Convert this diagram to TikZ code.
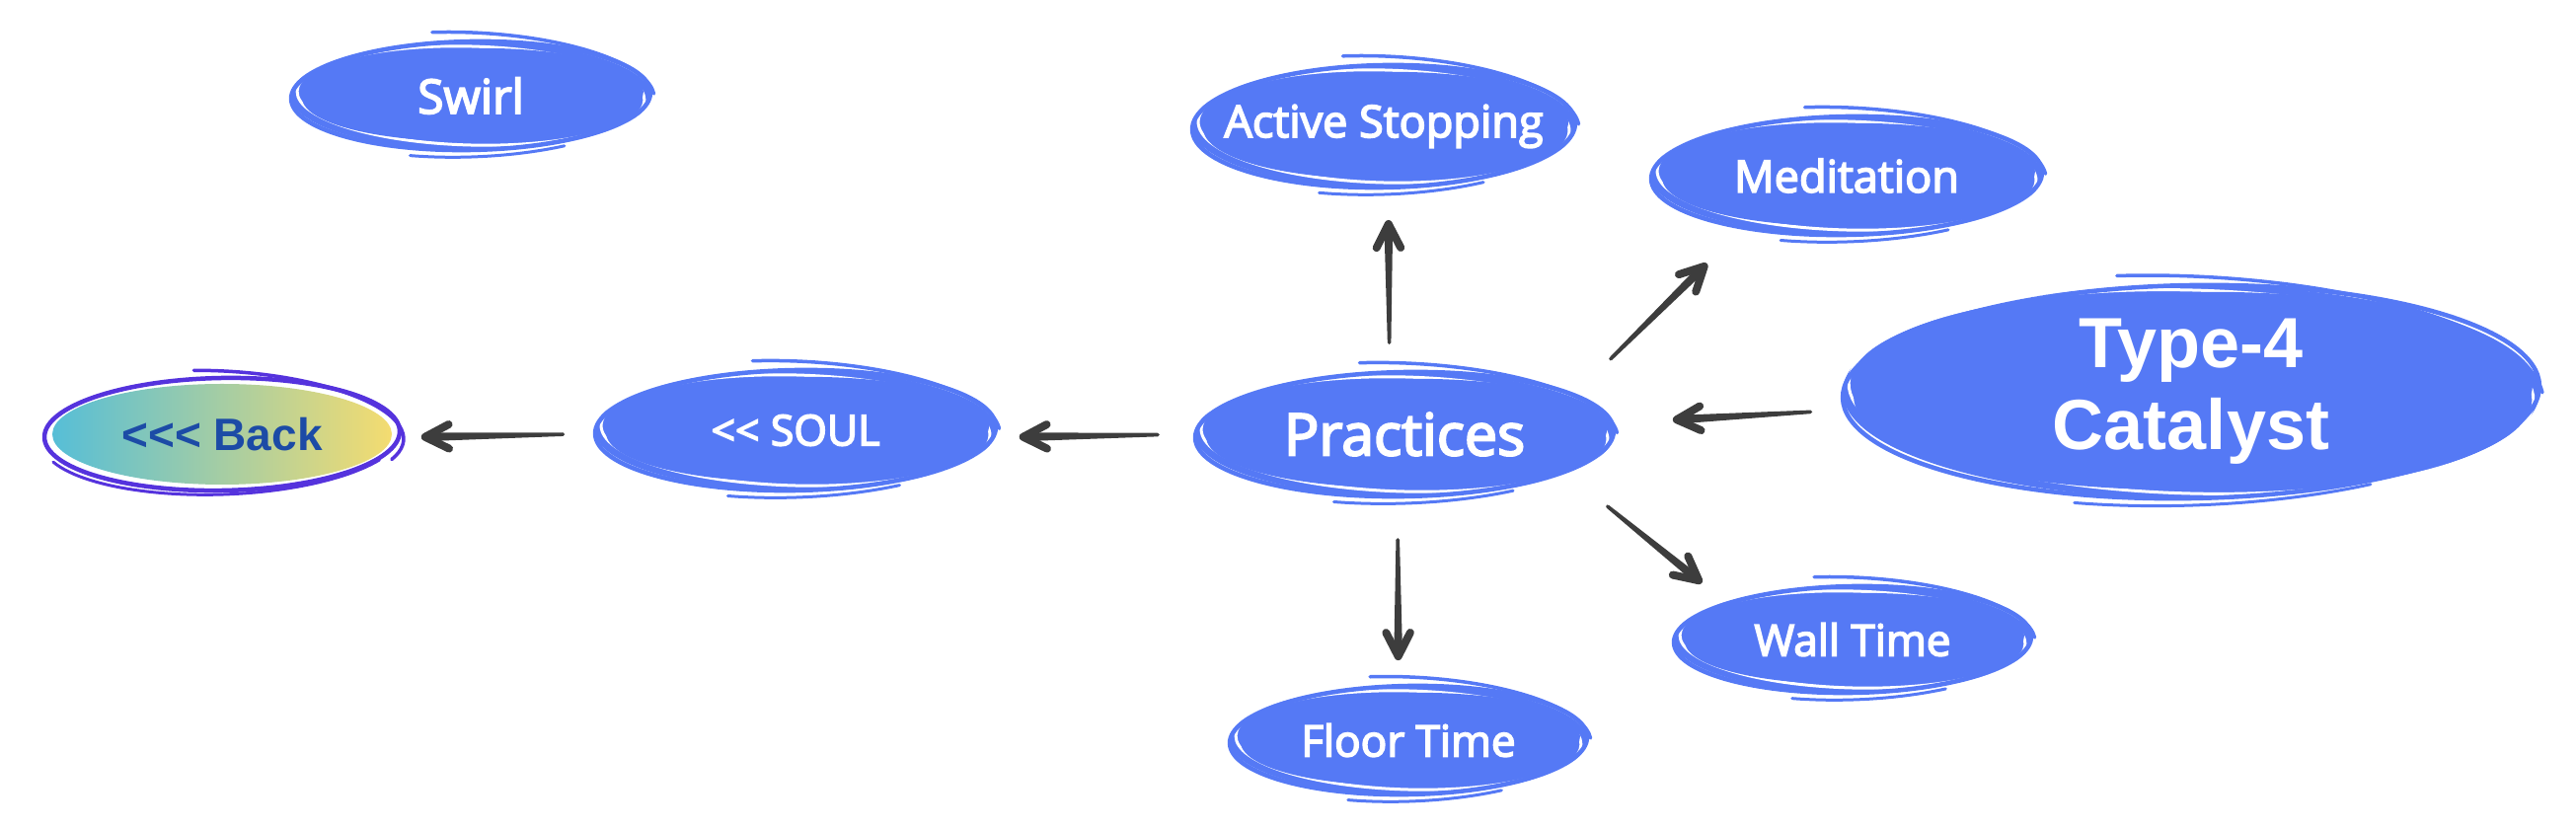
\documentclass[tikz,border=0pt]{standalone}
\usepackage{fontspec}
\setmainfont{Open Sans}[AutoFakeBold=3.6]
\newfontfamily\catfont{Liberation Sans}
\usetikzlibrary{shapes.geometric,arrows.meta,calc}
\definecolor{nb}{RGB}{85,121,245}
\definecolor{ag}{RGB}{61,61,61}
\definecolor{bp}{RGB}{85,51,221}
\definecolor{bc}{RGB}{86,190,215}
\definecolor{by}{RGB}{244,220,112}
\definecolor{bt}{RGB}{28,75,166}
\newcommand\skell[4]{%
\begin{scope}[shift={(#1,#2)}]
\pgfmathsetmacro\rxa{#3-3}\pgfmathsetmacro\rya{#4-3}%
\pgfmathsetmacro\rxb{#3-9}\pgfmathsetmacro\ryb{#4-8}%
\pgfmathsetmacro\rxc{#3-12}\pgfmathsetmacro\ryc{#4-11}%
\pgfmathsetmacro\rxd{#3+1}\pgfmathsetmacro\ryd{#4+1}%
\fill[nb] (0,0) ellipse [x radius=\rxa, y radius=\rya];
\draw[white, line width=3pt, rotate=-1.5] (0,0) ellipse [x radius=\rxb, y radius=\ryb];
\fill[nb, rotate=1] (2,1) ellipse [x radius=\rxc, y radius=\ryc];
\draw[nb, line width=4.5pt, rotate=1] (0,0) ellipse [x radius=\rxa, y radius=\rya];
\draw[nb, line width=3.5pt, line cap=round, rotate=-2.5] (0,5) ++(103:{\rxd} and {\ryd}) arc [start angle=103, end angle=5, x radius=\rxd, y radius=\ryd];
\draw[nb, line width=3pt, line cap=round, rotate=2] (0,-3) ++(250:{\rxd} and {\ryd}) arc [start angle=250, end angle=300, x radius=\rxd, y radius=\ryd];
\end{scope}}
% tapered hand-drawn arrow between two node anchors
\newcommand\conn[4]{%
 \coordinate (ct) at ($(#1)!#3!(#2)$);
 \coordinate (ch) at ($(#2)!#4!(#1)$);
 \fill[ag] ($(ct)!1.8pt!90:(ch)$) -- ($(ch)!4.4pt!-90:(ct)$) -- ($(ch)!4.4pt!90:(ct)$) -- ($(ct)!1.8pt!-90:(ch)$) -- cycle;
 \fill[ag] (ct) circle (1.8pt);
 \draw[ag, line width=8pt, line cap=round, line join=round] ($(ch)!27pt!27:(ct)$) -- (ch) -- ($(ch)!27pt!-27:(ct)$);
}
\tikzset{
  lbl/.style={ellipse, inner sep=0pt, outer sep=0pt, text=white, align=center,
    font=\bfseries\fontsize{45}{54}\selectfont}
}
\begin{document}
\begin{tikzpicture}[x=1pt,y=1pt]
\useasboundingbox (0,0) rectangle (2610,840);
% decorative ellipses
\skell{477}{743}{185}{58}
\skell{1402}{712}{197}{65}
\skell{1871}{662}{201}{63}
\skell{2220}{443}{356}{111}
\skell{1423}{400}{215}{66}
\skell{806}{404}{206}{64}
\skell{1877}{192}{184}{57}
\skell{1427}{90}{184}{58}
% back node
\begin{scope}[shift={(225,400)}]
\shade[left color=bc, right color=by] (0,0) ellipse [x radius=172, y radius=51];
\draw[bp, line width=4.5pt, rotate=1] (0,0) ellipse [x radius=180, y radius=57];
\draw[bp, line width=3.5pt, line cap=round, rotate=-3] (0,4) ++(100:184 and 60) arc [start angle=100, end angle=-20, x radius=184, y radius=60];
\draw[bp, line width=3pt, line cap=round, rotate=2] (0,-2) ++(200:183 and 59) arc [start angle=200, end angle=330, x radius=183, y radius=59];
\end{scope}
% nodes
\node[lbl, minimum width=370pt, minimum height=116pt,
  font=\bfseries\fontsize{48}{56}\selectfont] (swirl) at (477,743) {Swirl};
\node[lbl, minimum width=394pt, minimum height=130pt] (act) at (1402,712) {Active Stopping};
\node[lbl, minimum width=402pt, minimum height=127pt] (med) at (1871,662) {Meditation};
\node[lbl, minimum width=713pt, minimum height=222pt,
  font=\catfont\bfseries\fontsize{72}{83}\selectfont] (cat) at (2220,443) {Type-4\\Catalyst};
\node[lbl, minimum width=430pt, minimum height=132pt,
  font=\bfseries\fontsize{59}{66}\selectfont] (prac) at (1423,400) {Practices};
\node[lbl, minimum width=412pt, minimum height=128pt,
  font=\bfseries\fontsize{43}{50}\selectfont] (soul) at (806,404) {<\kern0pt< SOUL};
\node[lbl, minimum width=369pt, minimum height=115pt,
  font=\bfseries\fontsize{44}{50}\selectfont] (wall) at (1877,192) {Wall Time};
\node[lbl, minimum width=369pt, minimum height=116pt,
  font=\bfseries\fontsize{44}{50}\selectfont] (floor) at (1427,90) {Floor Time};
\node[lbl, minimum width=366pt, minimum height=120pt, text=bt,
  font=\catfont\bfseries\fontsize{46}{54}\selectfont] (back) at (225,400) {<<< Back};
% connectors
\conn{prac.103.7}{act.274.4}{27pt}{34pt}
\conn{prac.264}{floor.100.8}{41pt}{27pt}
\conn{prac.13.9}{med.207.6}{52pt}{54pt}
\conn{prac.-14.1}{wall.163.8}{50pt}{31pt}
\conn{cat.183.2}{prac.3.6}{34pt}{64pt}
\conn{prac.180}{soul.-2}{35pt}{26pt}
\conn{soul.181.4}{back.-1.3}{30pt}{23pt}
\end{tikzpicture}
\end{document}
